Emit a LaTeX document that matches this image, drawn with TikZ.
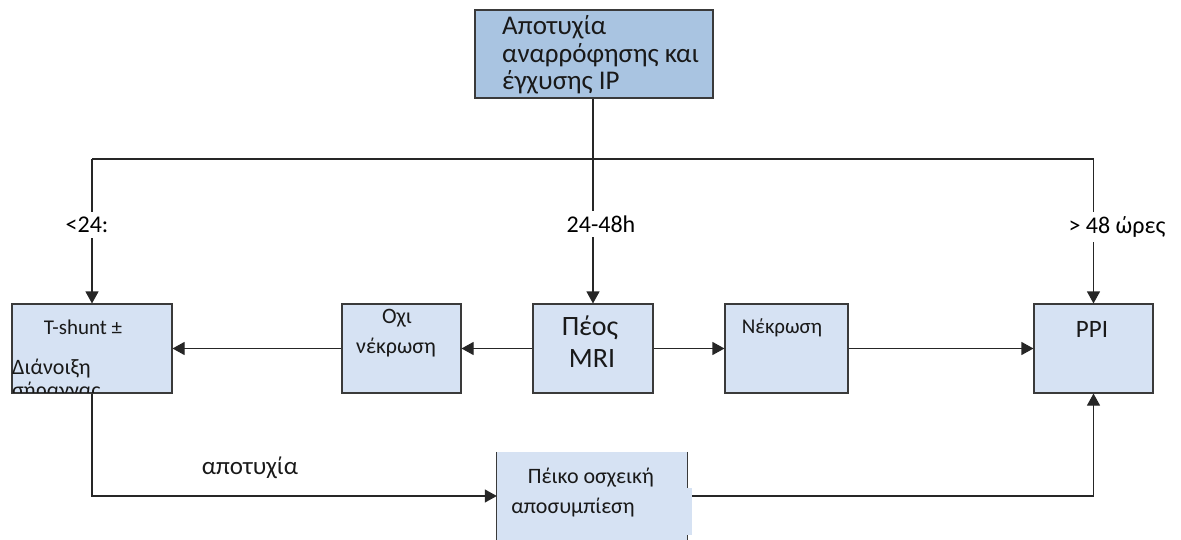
\documentclass[tikz,border=0pt]{standalone}
\usepackage{fontspec}
\setmainfont{Carlito}
\usetikzlibrary{arrows.meta}
\definecolor{topfill}{HTML}{A9C4E1}
\definecolor{boxfill}{HTML}{D6E2F3}
\definecolor{boxline}{HTML}{3A3A3A}
\tikzset{
  box/.style={draw=boxline, fill=boxfill, line width=1.1pt, minimum height=89pt, inner sep=0pt},
  conn/.style={line width=1.1pt, draw=black!85},
  arr/.style={conn, -{Triangle[width=13pt,length=12pt]}},
  lbl/.style={fill=white, inner xsep=2pt, inner ysep=5pt, font=\fontsize{24}{26}\selectfont},
  txt/.style={anchor=base, inner sep=0pt, text=black!90}
}
\begin{document}
\begin{tikzpicture}[x=1pt,y=1pt]
\useasboundingbox (0,0) rectangle (1181,-540);
% top box
\node[draw=boxline, fill=topfill, line width=1.1pt, minimum width=238pt, minimum height=88pt, inner sep=0pt] (top) at (594,-54) {};
\node[txt, anchor=base west, font=\fontsize{27}{28}\selectfont] (topA) at (502,-35) {Αποτυχία};
\node[txt, anchor=base west, font=\fontsize{27}{28}\selectfont] (topB) at (502,-62.5) {αναρρόφησης και};
\node[txt, anchor=base west, font=\fontsize{27}{28}\selectfont] (topC) at (502,-90) {έγχυσης IP};
% boxes row
\node[box, minimum width=160pt] (tsh) at (92,-348.5) {};
\node[txt, font=\fontsize{21}{22}\selectfont] (tshA) at (83,-334) {T-shunt ±};
\begin{scope}
\clip (12,-304) rectangle (172,-392);
\node[txt, anchor=base west, font=\fontsize{22}{24}\selectfont] (tshB) at (12,-374) {Διάνοιξη};
\node[txt, anchor=base west, font=\fontsize{22}{24}\selectfont] (tshC) at (12,-397) {σήραγγας};
\end{scope}
\node[box, minimum width=119pt] (oxi) at (401.5,-348.5) {};
\node[txt, font=\fontsize{22}{24}\selectfont] (oxiA) at (397,-323) {Οχι};
\node[txt, font=\fontsize{22}{24}\selectfont] (oxiB) at (396,-353) {νέκρωση};
\node[box, minimum width=120pt] (mri) at (593,-348.5) {};
\node[txt, font=\fontsize{28}{30}\selectfont] (mriA) at (590,-335) {Πέος};
\node[txt, font=\fontsize{28}{30}\selectfont] (mriB) at (592,-367) {MRI};
\node[box, minimum width=123pt] (nek) at (786.5,-348.5) {};
\node[txt, font=\fontsize{21}{22}\selectfont] (nekt) at (782,-333) {Νέκρωση};
\node[box, minimum width=119pt] (ppi) at (1093.5,-348.5) {};
\node[txt, font=\fontsize{25}{26}\selectfont] (ppit) at (1092,-337) {PPI};
% bottom box
\node[fill=boxfill, minimum width=190pt, minimum height=88pt, inner sep=0pt] (pei) at (592,-496) {};
\draw[boxline, line width=1.1pt] (pei.north west) -- (pei.south west);
\draw[boxline, line width=1.1pt] (pei.north east) -- ++(0,-36);
\draw[boxline, line width=1.1pt] (pei.south east) -- ++(0,5);
\fill[boxfill] (684,-488) rectangle (692,-535);
\node[txt, font=\fontsize{22}{24}\selectfont] (peiA) at (591,-483) {Πέικο οσχεική};
\node[txt, font=\fontsize{22}{24}\selectfont] (peiB) at (573,-513) {αποσυμπίεση};
% connectors
\coordinate (hl) at (92,-159);
\coordinate (hr) at (1093.5,-159);
\coordinate (peo) at (692,-496);
\draw[conn] (hl) -- (hr);
\draw[arr] (hl) -- (tsh.north);
\draw[arr] (hr) -- (ppi.north);
\draw[arr] (top.south -| mri.north) -- (mri.north);
\node[lbl] (l1) at (87,-225) {<24:};
\node[lbl] (l2) at (601,-224) {24-48h};
\node[lbl] (l3) at (1117,-227) {> 48 ώρες};
\draw[arr] (mri.west) -- (oxi.east);
\draw[arr] (oxi.west) -- (tsh.east);
\draw[arr] (mri.east) -- (nek.west);
\draw[arr] (nek.east) -- (ppi.west);
\draw[arr] (tsh.south) |- (pei.west);
\draw[arr] (peo) -| (ppi.south);
\node[txt, font=\fontsize{25}{26}\selectfont] (fail) at (250,-474) {αποτυχία};
\end{tikzpicture}
\end{document}
